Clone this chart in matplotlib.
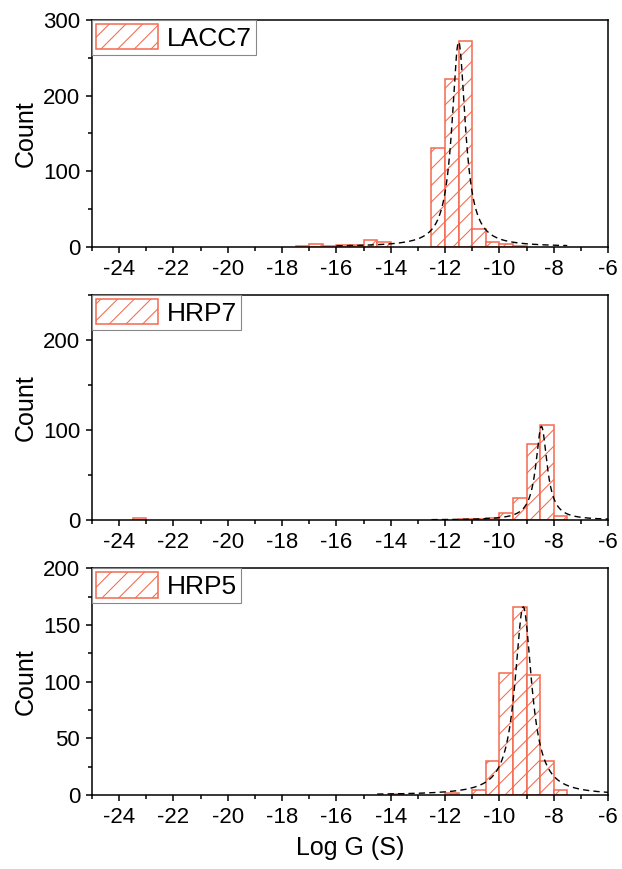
import numpy as np
import matplotlib
matplotlib.use("Agg")
import matplotlib.pyplot as plt
from matplotlib.ticker import MultipleLocator

plt.rcParams['font.family'] = ['Liberation Sans', 'DejaVu Sans']
plt.rcParams['axes.unicode_minus'] = False
plt.rcParams['hatch.linewidth'] = 0.75

DPI = 100

# histogram data: left bin edges (width 0.5) and counts
lacc7_left = [-17.5, -17.0, -16.5, -16.0, -15.5, -15.0, -14.5, -12.5, -12.0, -11.5, -11.0, -10.5, -10.0, -9.5]
lacc7_count = [1, 4, 1, 2, 2, 9, 6, 130, 222, 272, 24, 6, 4, 1]

hrp7_left = [-23.5, -11.5, -11.0, -10.5, -10.0, -9.5, -9.0, -8.5, -8.0]
hrp7_count = [2, 1, 1, 2, 8, 25, 84, 105, 4]

hrp5_left = [-14.0, -12.0, -11.0, -10.5, -10.0, -9.5, -9.0, -8.5, -8.0]
hrp5_count = [1, 2, 4, 30, 108, 166, 106, 30, 4]

labels = ["LACC7", "HRP7", "HRP5"]
bin_width = 0.5

# Lorentz fit parameters
fit_center = [-11.5, -8.45, -9.12]
fit_height = [271, 104, 166]
fit_fwhm = [0.6, 0.5, 0.75]
fit_range = [(-16.0, -7.5), (-12.5, -6.0), (-14.5, -6.0)]

ylims = [300, 250, 200]
ymajor = [100, 100, 50]

bar_color = '#F46A4E'

fig = plt.figure(figsize=(622 / DPI, 869 / DPI), dpi=DPI)
left = 92 / 622
width = (608 - 92) / 622
panels = [(20, 246.7), (295, 520), (568.3, 795)]

data = [(lacc7_left, lacc7_count), (hrp7_left, hrp7_count), (hrp5_left, hrp5_count)]

for i, (top, bot) in enumerate(panels):
    ax = fig.add_axes([left, 1 - bot / 869, width, (bot - top) / 869])
    lefts, counts = data[i]
    ax.bar(lefts, counts, width=bin_width, align='edge', facecolor='white',
           edgecolor=bar_color, hatch='//', linewidth=1.1, label=labels[i], zorder=2)

    lo, hi = fit_range[i]
    xs = np.linspace(lo, hi, 600)
    g = fit_fwhm[i] / 2
    ys = fit_height[i] * g**2 / ((xs - fit_center[i])**2 + g**2)
    ax.plot(xs, ys, color='black', linestyle=(0, (4.5, 3)), linewidth=1.0, zorder=3)

    ax.set_xlim(-25, -6)
    ax.set_ylim(0, ylims[i])
    ax.xaxis.set_major_locator(MultipleLocator(2))
    ax.xaxis.set_minor_locator(MultipleLocator(1))
    ax.yaxis.set_major_locator(MultipleLocator(ymajor[i]))
    ax.yaxis.set_minor_locator(MultipleLocator(ymajor[i] / 2))
    ax.set_xticks(range(-24, -5, 2))
    ax.tick_params(which='both', direction='out', top=False, right=False,
                   width=1.1, labelsize=16, color='black', pad=4)
    ax.tick_params(which='major', length=4.5)
    ax.tick_params(which='minor', length=3)
    for sp in ax.spines.values():
        sp.set_linewidth(1.1)
    ax.set_ylabel("Count", fontsize=18, labelpad=4)

    leg = ax.legend(loc='upper left', borderaxespad=0, fontsize=19, fancybox=False,
                    edgecolor='#888888', framealpha=1, borderpad=0.15,
                    handlelength=2.35, handleheight=1.1, handletextpad=0.35)
    leg.get_frame().set_linewidth(0.8)

    if i == 2:
        ax.set_xlabel("Log G (S)", fontsize=18, labelpad=6)

fig.savefig("out.png", dpi=DPI)
